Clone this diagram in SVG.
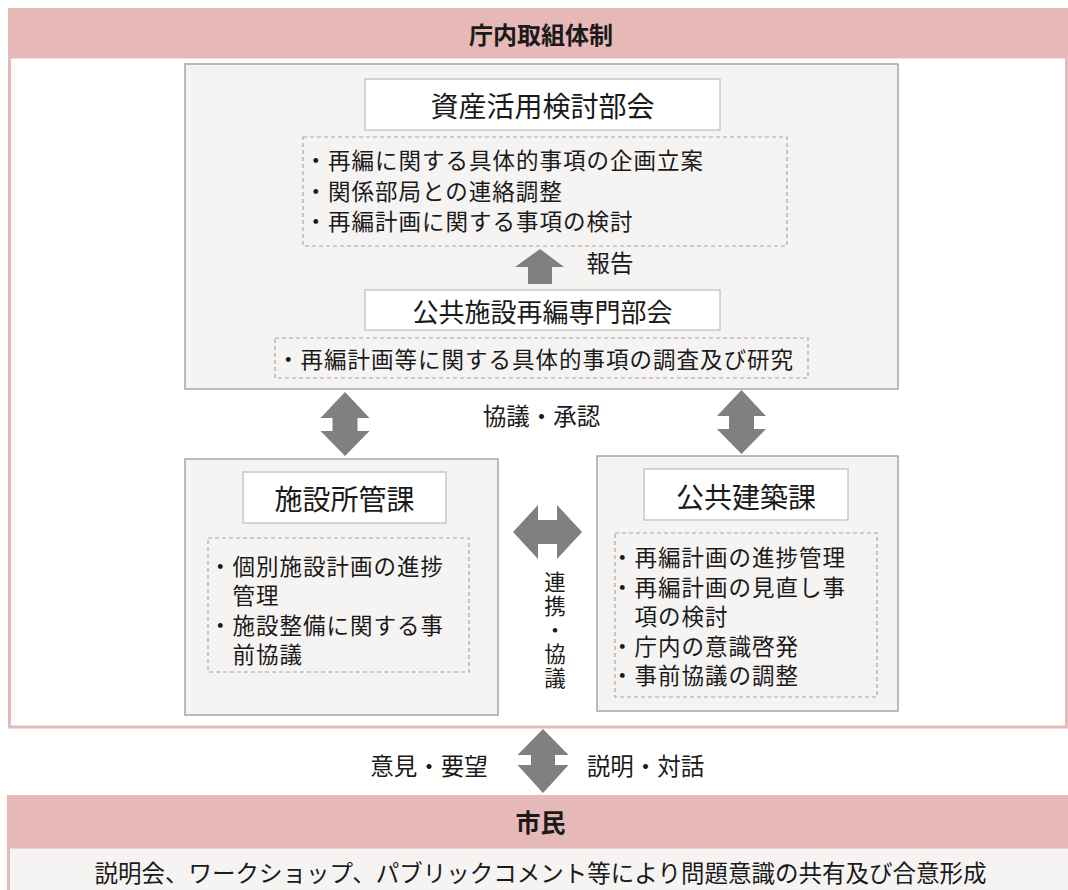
<svg xmlns="http://www.w3.org/2000/svg" width="1068" height="890" viewBox="0 0 1068 890">
<style>
text{font-family:"Noto Sans CJK JP","Noto Sans CJK SC",sans-serif;fill:#1a1a1a;dominant-baseline:central}
.band{fill:#e6b8b7}
.grp{fill:#f6f3f3;stroke:#a6a6a6;stroke-width:1.5}
.ttl{fill:#ffffff;stroke:#c8c8c8;stroke-width:1.5}
.dash{fill:none;stroke:#a6a6a6;stroke-width:1.2;stroke-dasharray:4 3}
.arr{fill:#808080}
.t28{font-size:28px;text-anchor:middle}
.t26{font-size:26px;text-anchor:middle}
.s{font-size:22.5px;letter-spacing:1px}
.lbl{font-size:23.5px;text-anchor:middle}
.vt{font-size:21.5px;text-anchor:middle;writing-mode:vertical-rl;letter-spacing:2.5px;dominant-baseline:auto}
.hd{font-size:24px;font-weight:bold;text-anchor:middle}
</style>
<rect width="1068" height="890" fill="#ffffff"/>
<g id="frame">
<rect x="9.5" y="57" width="1057" height="670" fill="#ffffff" stroke="#e6b8b7" stroke-width="3"/>
<rect class="band" x="8" y="8" width="1060" height="49"/>
<text class="hd" x="541" y="33">庁内取組体制</text>
</g>
<g id="shisan">
<rect class="grp" x="185" y="64" width="713" height="325"/>
<rect class="ttl" x="365" y="79" width="355" height="51"/>
<text class="t28" x="542.5" y="104.5">資産活用検討部会</text>
<rect class="dash" x="303" y="137" width="484" height="109"/>
<text class="s"><tspan x="304.5" y="159">・再編に関する具体的事項の企画立案</tspan><tspan x="304.5" y="189.5">・関係部局との連絡調整</tspan><tspan x="304.5" y="220">・再編計画に関する事項の検討</tspan></text>
</g>
<g id="senmon">
<rect class="ttl" x="365" y="290" width="355" height="40"/>
<text class="t26" x="542.5" y="310">公共施設再編専門部会</text>
<rect class="dash" x="275" y="338" width="533" height="40"/>
<text class="s" x="277" y="358">・再編計画等に関する具体的事項の調査及び研究</text>
</g>
<g id="shokan">
<rect class="grp" x="185" y="459" width="313" height="256"/>
<rect class="ttl" x="243" y="472" width="203" height="51"/>
<text class="t28" x="344.5" y="498">施設所管課</text>
<rect class="dash" x="208" y="538" width="261" height="134"/>
<text class="s"><tspan x="209" y="564.5">・個別施設計画の進捗</tspan><tspan x="232.5" y="594">管理</tspan><tspan x="209" y="623.5">・施設整備に関する事</tspan><tspan x="232.5" y="653">前協議</tspan></text>
</g>
<g id="kenchiku">
<rect class="grp" x="597" y="456" width="301" height="255"/>
<rect class="ttl" x="644" y="469" width="204" height="51"/>
<text class="t28" x="746" y="495.5">公共建築課</text>
<rect class="dash" x="615" y="533" width="262" height="164"/>
<text class="s"><tspan x="611" y="556">・再編計画の進捗管理</tspan><tspan x="611" y="585.5">・再編計画の見直し事</tspan><tspan x="634.5" y="615">項の検討</tspan><tspan x="611" y="644.5">・庁内の意識啓発</tspan><tspan x="611" y="674">・事前協議の調整</tspan></text>
</g>
<g id="shimin">
<rect x="8.5" y="847" width="1061" height="45" fill="#f6f3f3" stroke="#e6b8b7" stroke-width="3"/>
<rect class="band" x="7" y="795" width="1061" height="52"/>
<text class="hd" x="540.5" y="821" style="font-size:25px">市民</text>
<text x="540.5" y="872" style="font-size:23.5px;text-anchor:middle">説明会、ワークショップ、パブリックコメント等により問題意識の共有及び合意形成</text>
</g>
<g id="connectors">
<path class="arr" d="M540,249 L564,267 L552,267 L552,284 L528,284 L528,267 L515,267 Z"/>
<path class="arr" d="M345,392 L369.5,418 L357.5,418 L357.5,431 L369.5,431 L345,456 L320.5,431 L332.5,431 L332.5,418 L320.5,418 Z"/>
<path class="arr" d="M741.5,390 L766,416 L754,416 L754,429 L766,429 L741.5,454 L717,429 L729,429 L729,416 L717,416 Z"/>
<path class="arr" d="M513,532 L538,505 L538,520 L557,520 L557,505 L582,532 L557,559 L557,544 L538,544 L538,559 Z"/>
<path class="arr" d="M543,729 L568.5,755 L555,755 L555,765 L568.5,765 L543,793 L517.5,765 L531,765 L531,755 L517.5,755 Z"/>
<text class="lbl" x="610" y="262">報告</text>
<text class="lbl" x="541.5" y="415">協議・承認</text>
<text class="vt" x="555" y="631">連携・協議</text>
<text class="lbl" x="429" y="765">意見・要望</text>
<text class="lbl" x="645.5" y="765">説明・対話</text>
</g>
</svg>
